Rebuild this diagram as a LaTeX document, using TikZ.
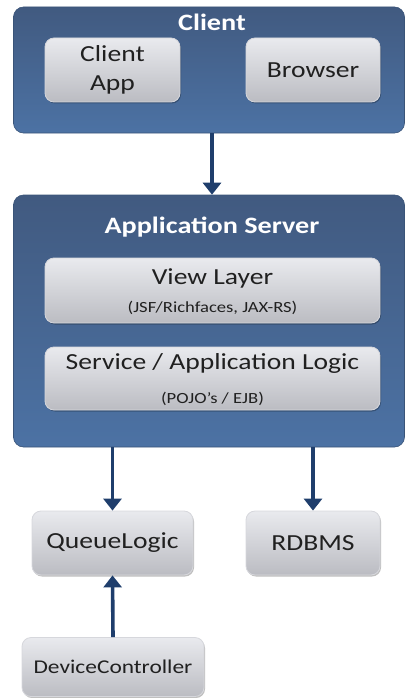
\documentclass[tikz,border=0pt]{standalone}
\usepackage{fontspec}
\setmainfont{Carlito}[FakeStretch=1.2]
\usetikzlibrary{arrows.meta,shadows}
\definecolor{conttop}{HTML}{415A80}
\definecolor{contbot}{HTML}{4C72A4}
\definecolor{contborder}{HTML}{3A5478}
\definecolor{boxtop}{HTML}{E9EAEE}
\definecolor{boxbot}{HTML}{BBBCC2}
\definecolor{boxborder}{HTML}{D6D7DC}
\definecolor{textgray}{HTML}{202020}
\definecolor{arrowblue}{HTML}{1F3E6C}
\begin{document}
\begin{tikzpicture}[x=1pt,y=-1pt,
  container/.style={rectangle, rounded corners=10pt, top color=conttop, bottom color=contbot,
    draw=contborder, line width=0.6pt, inner sep=0pt},
  ctitle/.style={text=white, font=\bfseries\fontsize{23.5}{28}\selectfont, inner sep=0pt},
  graybox/.style={rectangle, rounded corners=9pt, top color=boxtop, bottom color=boxbot,
    draw=boxborder, line width=0.8pt, inner sep=0pt, text=textgray,
    font=\fontsize{23}{29}\selectfont, align=center,
    drop shadow={shadow xshift=1pt, shadow yshift=-1.5pt, opacity=0.25, fill=black}},
  boxtext/.style={text=textgray, font=\fontsize{23}{28}\selectfont, inner sep=0pt},
  subtext/.style={text=textgray, font=\fontsize{15.5}{18}\selectfont, inner sep=0pt},
  arrow/.style={draw=arrowblue, line width=3.6pt, -{Triangle[width=18pt,length=12pt]}}
]
\useasboundingbox (0,0) rectangle (405,698);

% Client container
\node[container, minimum width=391pt, minimum height=126pt] (client) at (209,70) {};
\node[ctitle] (clienttitle) at (212,22) {Client};
\node[graybox, minimum width=135pt, minimum height=64pt] (clientapp) at (112.5,70) {Client\\App};
\node[graybox, minimum width=134pt, minimum height=64pt] (browser) at (313,70) {Browser};

% Application server container
\node[container, minimum width=391pt, minimum height=252pt] (server) at (209,321) {};
\node[ctitle] (servertitle) at (212,227) {Application Server};
\node[graybox, minimum width=335pt, minimum height=65pt] (view) at (212.5,290.5) {};
\node[boxtext] (viewtitle) at (212.5,278) {View Layer};
\node[subtext] (viewsub) at (212.5,308) {(JSF/Richfaces, JAX-RS)};
\node[graybox, minimum width=335pt, minimum height=63pt] (service) at (212.5,378.5) {};
\node[boxtext] (servicetitle) at (212.5,363) {Service / Application Logic};
\node[subtext] (servicesub) at (212.5,399) {(POJO’s / EJB)};

% Bottom boxes
\node[graybox, minimum width=161pt, minimum height=64pt] (queue) at (112.5,543) {QueueLogic};
\node[graybox, minimum width=134pt, minimum height=64pt] (rdbms) at (313,543) {RDBMS};
\node[graybox, minimum width=182pt, minimum height=59pt, font=\fontsize{19.5}{24}\selectfont] (device) at (113,667) {DeviceController};

% Connectors
\draw[arrow] (client.south -| clienttitle) -- (server.north -| clienttitle);
\draw[arrow] (server.south -| queue) -- (queue.north);
\draw[arrow] (server.south -| rdbms) -- (rdbms.north);
\draw[arrow] (device.north) -- (queue.south);
\end{tikzpicture}
\end{document}
